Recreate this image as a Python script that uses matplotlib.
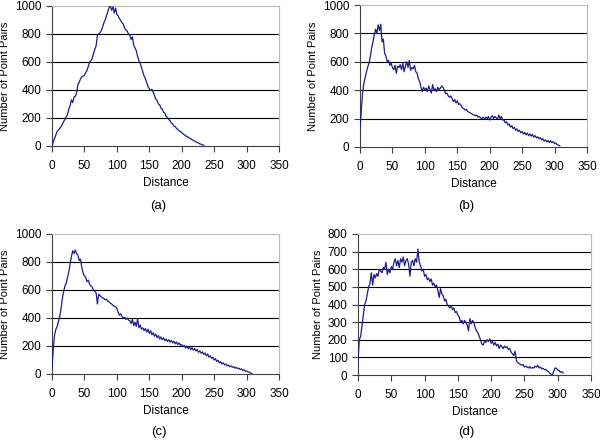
import matplotlib
matplotlib.use("Agg")
import matplotlib.pyplot as plt
import numpy as np

plt.rcParams['font.family'] = ['Liberation Sans', 'DejaVu Sans']

STEP = 2
# values at distance 0,2,4,...
vals_a = [0, 30, 55, 80, 105, 115, 125, 140, 155, 175, 190, 210, 225, 265, 290, 330, 310, 350, 355, 380,
          440, 455, 480, 495, 500, 505, 525, 540, 570, 600, 610, 625, 660, 690, 715, 790, 800, 810, 825, 850,
          880, 900, 930, 960, 990, 1000, 970, 995, 950, 985, 940, 930, 910, 895, 880, 870, 840, 830, 820, 800,
          790, 760, 780, 720, 700, 680, 640, 610, 590, 560, 530, 500, 480, 455, 425,
          410, 395, 405, 385, 360, 335, 325, 300, 295, 270, 265, 240, 235, 210, 205, 190, 180, 165, 158, 142,
          138, 125, 118, 108, 104, 95, 88, 80, 74, 66, 64, 55, 52, 44, 42, 34, 30, 24, 22, 15, 12, 8, 5]
vals_b = [130, 260, 380, 450, 490, 530, 565, 590, 640, 700, 740, 790, 830, 800, 860, 820, 865, 740, 760, 660,
          640, 600, 610, 575, 590, 560, 545, 575, 520, 570, 560, 580, 545, 590, 530, 570, 600, 560, 610, 540,
          560, 550, 575, 530, 520, 480, 460, 420, 390, 420, 400, 415, 390, 430, 405, 380, 440, 400, 410, 390,
          420, 405, 415, 430, 420, 400, 375, 380, 360, 350, 360, 340, 320, 335, 310, 325, 300, 305, 290, 275,
          270, 260, 265, 250, 245, 240, 235, 230, 225, 220, 225, 210, 215, 205, 200, 210, 195, 210, 200, 215,
          190, 210, 220, 200, 215, 205, 195, 225, 200, 215, 190,
          190, 170, 178, 155, 162, 140, 150, 130, 138, 118, 128, 110, 118, 100, 108, 92, 102, 85, 98, 80,
          92, 76, 88, 70, 80, 64, 72, 58, 66, 50, 58, 42, 50, 36, 46, 32, 44, 30, 38, 24, 28, 16, 14, 8]
vals_c = [40, 180, 280, 320, 340, 375, 410, 470, 540, 590, 630, 650, 690, 730, 790, 840, 880, 860, 885, 860,
          850, 810, 820, 760, 720, 700, 690, 660, 670, 640, 630, 620, 600, 590, 580, 500, 570, 560, 550, 545,
          540, 530, 535, 520, 515, 505, 500, 490, 485, 480, 470, 440, 420, 430, 410, 400, 405, 390, 400, 385,
          380, 360, 390, 345, 370, 340, 395, 330, 350, 320, 330, 310, 325, 300, 320,
          290, 310, 280, 295, 270, 285, 260, 275, 250, 265, 245, 258, 238, 250, 232, 245, 228, 240, 222, 235,
          215, 228, 210, 222, 205,
          210, 195, 205, 185, 200, 180, 195, 175, 188, 170, 182, 165, 175, 155, 165, 148, 158, 140, 150, 130,
          142, 120, 130, 112, 120, 100, 110, 90, 98, 80, 88, 72, 80, 65, 72, 58, 65, 52, 58, 48,
          52, 42, 48, 38, 42, 32, 36, 26, 30, 20, 22, 14, 14, 8, 4]
vals_d = [80, 200, 220, 280, 340, 400, 420, 460, 500, 520, 580, 510, 570, 550, 575, 560, 600, 590, 580, 610,
          600, 640, 570, 600, 580, 615, 600, 640, 660, 620, 650, 610, 660, 640, 670, 620, 650, 660, 630, 560,
          640, 650, 620, 660, 640, 715, 640, 620, 590, 600, 560, 570, 540, 550, 530, 545, 510, 520, 500, 510,
          480, 440, 490, 460, 450, 420, 430, 400, 390, 380, 395, 370, 380, 355, 360, 340, 330, 300, 310, 290,
          310, 300, 285, 250, 320, 290, 310, 295, 270, 250, 240, 220, 200, 175, 170, 190, 185, 200, 190, 205,
          180, 190, 170, 185, 165, 175, 150, 170, 160, 150, 165, 155, 160, 145, 150, 130, 120, 110, 135, 80,
          70, 65, 60, 55, 60, 45, 50, 45, 40, 48, 38, 42, 40, 50, 45, 55, 40, 45, 35, 38,
          30, 32, 25, 20, 10, 5, 0, 20, 40, 38, 28, 25, 15, 20, 12]

series = [vals_a, vals_b, vals_c, vals_d]
panel_labels = ['(a)', '(b)', '(c)', '(d)']
xticks = [0, 50, 100, 150, 200, 250, 300, 350]
yticks_abc = [0, 200, 400, 600, 800, 1000]
yticks_d = [0, 100, 200, 300, 400, 500, 600, 700, 800]
yticks_list = [yticks_abc, yticks_abc, yticks_abc, yticks_d]

W, H = 600, 442
fig = plt.figure(figsize=(6.0, 4.42), dpi=100)
fig.patch.set_facecolor('white')

# axes boxes in pixels: left, right, top, bottom
boxes = [(52, 279, 6, 146), (360, 587, 5, 147), (52, 279, 234, 374), (358, 591, 234, 375)]
ylabel_x = [5, 313, 5, 318]
label_pos = [(158, 206), (466, 206), (159, 432), (466, 432)]

LINE = '#1c1c8a'
for i, (vals, box) in enumerate(zip(series, boxes)):
    l, r, t, b = box
    ax = fig.add_axes([l / W, 1 - b / H, (r - l) / W, (b - t) / H])
    yt = yticks_list[i]
    x = np.arange(len(vals)) * STEP
    for v in yt[1:-1]:
        ax.axhline(v, color='black', lw=0.8, zorder=1)
    ax.plot(x, vals, color=LINE, lw=0.9, zorder=3)
    ax.set_xlim(0, 350)
    ax.set_ylim(yt[0], yt[-1])
    ax.set_xticks(xticks)
    ax.set_yticks(yt)
    ax.tick_params(axis='both', direction='out', length=4, width=0.8, color='#404040',
                   labelsize=8.5, labelcolor='black')
    ax.tick_params(axis='x', pad=6)
    ax.tick_params(axis='y', pad=3.5)
    for s in ['left', 'bottom']:
        ax.spines[s].set_color('#404040')
        ax.spines[s].set_linewidth(0.8)
    for s in ['top', 'right']:
        ax.spines[s].set_color('#b8b8b8')
        ax.spines[s].set_linewidth(0.8)
    ax.set_xlabel('Distance', fontsize=8.5, labelpad=4)
    ax.set_ylabel('Number of Point Pairs', fontsize=8, va='center')
    ax.yaxis.set_label_coords((ylabel_x[i] - l) / (r - l), 0.5)
    px, py = label_pos[i]
    fig.text(px / W, 1 - py / H, panel_labels[i], ha='center', va='center', fontsize=9.5)

fig.savefig('out.png', dpi=100, facecolor='white')
